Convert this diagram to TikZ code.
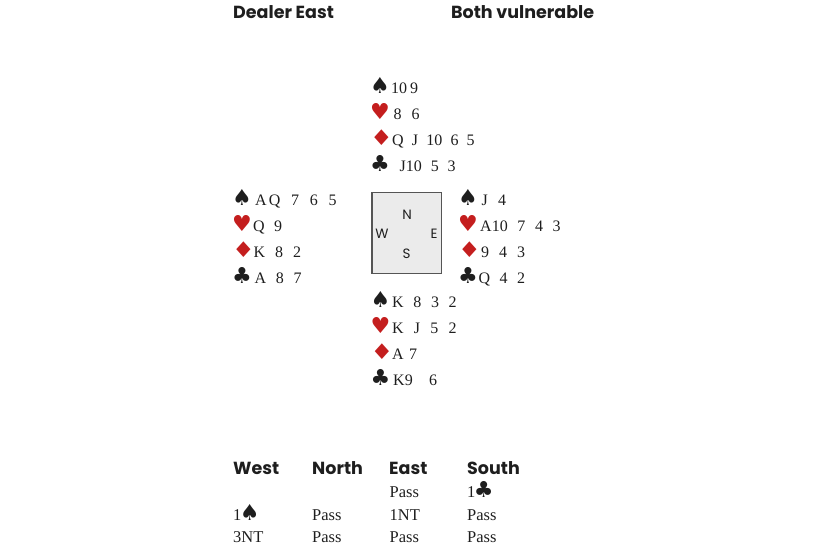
\documentclass[tikz,border=0pt]{standalone}
\usepackage{fontspec}
\usepackage{graphicx}
\setmainfont{Liberation Serif}
\newfontfamily\hdfont{Poppins}
\newfontfamily\suitfont{DejaVu Sans}
\definecolor{suitred}{HTML}{C41E1E}
\definecolor{ink}{HTML}{1E1E1E}
\definecolor{boxfill}{HTML}{EBEBEB}
\definecolor{boxline}{HTML}{555555}
\newcommand\suitsize{\fontsize{22}{22}\selectfont}
\newcommand\SPs{{\suitfont\color{ink}\suitsize ♠}}
\newcommand\HEs{{\suitfont\color{suitred}\suitsize ♥}}
\newcommand\DIs{{\suitfont\color{suitred}\suitsize\scalebox{1.15}[0.98]{♦}}}
\newcommand\CLs{{\suitfont\color{ink}\suitsize ♣}}
% \hand{suit}{offset}{width}{ranks}
\newcommand\hand[4]{\makebox[#2pt][l]{#1}\makebox[#3pt][s]{#4}}
\tikzset{
  card/.style={anchor=base west, inner sep=0pt, text=ink, font=\fontsize{16}{18}\selectfont},
  head/.style={anchor=base west, inner sep=0pt, text=ink, font=\hdfont\bfseries\fontsize{17.5}{20}\selectfont},
  bid/.style={anchor=base west, inner sep=0pt, text=ink, font=\fontsize{16.5}{18}\selectfont},
  compass/.style={inner sep=0pt, text=ink, font=\hdfont\fontsize{13.5}{15}\selectfont},
  tablebox/.style={draw=boxline, fill=boxfill, line width=1.2pt}
}
\begin{document}
\begin{tikzpicture}[x=1pt,y=-1pt]
\useasboundingbox (0,0) rectangle (830,550);
% headers
\node[head] (dealer) at (233,18.5) {Dealer East};
\node[head] (vul) at (451,18.5) {Both vulnerable};
% North
\node[card] (n1) at (370,93.5) {\hand{\SPs}{21}{27}{10 9}};
\node[card] (n2) at (370,119.5) {\hand{\HEs}{23.5}{26}{8 6}};
\node[card] (n3) at (370,145.5) {\hand{\DIs}{22}{82.5}{Q J 10 6 5}};
\node[card] (n4) at (370,171.5) {\hand{\CLs}{29.5}{56}{J10 5 3}};
% West
\node[card] (w1) at (232,205.5) {\hand{\SPs}{23}{81.5}{A\hspace{2pt}Q 7 6 5}};
\node[card] (w2) at (232,231.5) {\hand{\HEs}{21}{29}{Q 9}};
\node[card] (w3) at (232,257.5) {\hand{\DIs}{21.5}{47.5}{K 8 2}};
\node[card] (w4) at (232,283.5) {\hand{\CLs}{22.5}{47}{A 8 7}};
% table
\draw[tablebox] (372,192.5) rectangle (441.5,273.5);
\node[compass] (cn) at (407,214.5) {N};
\node[compass] (cw) at (382,233.5) {W};
\node[compass] (ce) at (434,233.5) {E};
\node[compass] (cs) at (406.5,253.5) {S};
% East
\node[card] (e1) at (458,205.5) {\hand{\SPs}{23.5}{24.5}{J 4}};
\node[card] (e2) at (458,231.5) {\hand{\HEs}{22}{80.5}{A10 7 4 3}};
\node[card] (e3) at (458,257.5) {\hand{\DIs}{23}{44}{9 4 3}};
\node[card] (e4) at (458,283.5) {\hand{\CLs}{20.5}{46.5}{Q 4 2}};
% South
\node[card] (s1) at (370.5,307.5) {\hand{\SPs}{21.5}{64.5}{K 8 3 2}};
\node[card] (s2) at (370.5,333.5) {\hand{\HEs}{21.5}{64.5}{K J 5 2}};
\node[card] (s3) at (370.5,359.5) {\hand{\DIs}{21.5}{25}{A 7}};
\node[card] (s4) at (370.5,385.5) {\hand{\CLs}{22.5}{44}{K9 6}};
% bidding
\node[head] (bw) at (233,474.3) {West};
\node[head] (bn) at (312,474.3) {North};
\node[head] (be) at (389,474.3) {East};
\node[head] (bs) at (467,474.3) {South};
\node[bid] (b13) at (389.5,497.7) {Pass};
\node[bid] (b14) at (467,497.7) {1\kern-1.5pt\CLs};
\node[bid] (b21) at (233,520) {1\kern-1.5pt\SPs};
\node[bid] (b22) at (312,520) {Pass};
\node[bid] (b23) at (389.5,520) {1NT};
\node[bid] (b24) at (467,520) {Pass};
\node[bid] (b31) at (233,542.3) {3NT};
\node[bid] (b32) at (312,542.3) {Pass};
\node[bid] (b33) at (389.5,542.3) {Pass};
\node[bid] (b34) at (467,542.3) {Pass};
\end{tikzpicture}
\end{document}
